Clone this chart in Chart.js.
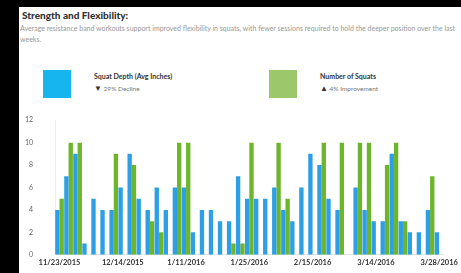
<!DOCTYPE html>
<html>
<head>
<meta charset="utf-8">
<script src="https://cdn.jsdelivr.net/npm/chart.js@4"></script>
<style>
  html, body { margin: 0; padding: 0; background: #000; width: 461px; height: 273px; overflow: hidden; }
  #panel { position: absolute; left: 19px; top: 7px; width: 442px; height: 266px; background: #fff; font-family: Lato, "Open Sans", sans-serif; }
  #title { position: absolute; left: 3px; top: 2px; font-size: 10px; font-weight: 900; color: #333; }
  #sub { position: absolute; left: 1px; top: 16px; width: 438px; font-size: 7px; line-height: 11px; color: #999; }
  .leg { position: absolute; top: 63px; }
  .sw { position: absolute; left: 0; top: 0; width: 28px; height: 28px; }
  .lt { position: absolute; left: 51px; top: 2px; white-space: nowrap; font-size: 7px; font-weight: 700; color: #333; }
  .ls { position: absolute; left: 51px; top: 13px; white-space: nowrap; font-size: 6.5px; color: #777; }
  .ls b { color: #333; font-size: 8px; }
  #wrap { position: absolute; left: 0; top: 95px; width: 442px; height: 171px; }
</style>
</head>
<body>
<div id="panel">
  <div id="title">Strength and Flexibility:</div>
  <div id="sub">Average resistance band workouts support improved flexibility in squats, with fewer sessions required to hold the deeper position over the last weeks.</div>
  <div class="leg" style="left:24px">
    <div class="sw" style="background:#17b5ef"></div>
    <div class="lt">Squat Depth (Avg Inches)</div>
    <div class="ls"><b>&#9660;</b> 29% Decline</div>
  </div>
  <div class="leg" style="left:250px">
    <div class="sw" style="background:#9cc76b"></div>
    <div class="lt">Number of Squats</div>
    <div class="ls"><b>&#9650;</b> 4% Improvement</div>
  </div>
  <div id="wrap"><canvas id="chart"></canvas></div>
</div>
<script>
// --- data ---
const sessionDates = [
  '11/23/2015', '11/25/2015', '11/30/2015', '12/2/2015', '12/4/2015', '12/7/2015', '12/9/2015',
  '12/14/2015', '12/16/2015', '12/21/2015', '12/28/2015', '1/4/2016', '1/6/2016', '1/8/2016',
  '1/11/2016', '1/13/2016', '1/15/2016', '1/18/2016', '1/20/2016', '1/21/2016', '1/22/2016',
  '1/25/2016', '1/27/2016', '1/29/2016', '2/1/2016', '2/3/2016', '2/8/2016', '2/10/2016',
  '2/15/2016', '2/17/2016', '2/22/2016', '2/24/2016', '2/29/2016', '3/2/2016', '3/7/2016',
  '3/14/2016', '3/16/2016', '3/18/2016', '3/21/2016', '3/22/2016', '3/23/2016', '3/25/2016',
  '3/28/2016'
];
const squatDepth = [
  4, 7, 9, 1, 5, 4, 4, 6, 9, 5, 4, 6, 4, 6, 6, 2, 4, 4, 3, 3, 7,
  5, 5, 5, 6, 4, 3, 6, 9, 8, 5, 4, 0, 6, 4, 3, 3, 9, 3, 2, 2, 4, 2
];
const squatCount = [
  5, 10, 10, 0, 0, 0, 9, 0, 8, 0, 3, 2, 0, 10, 10, 0, 0, 0, 0, 1, 1,
  10, 0, 0, 10, 5, 0, 0, 0, 10, 0, 10, 0, 10, 10, 0, 8, 10, 3, 0, 0, 7, 0
];
const yTicks = [0, 2, 4, 6, 8, 10, 12];
const labelEvery = 7;

// --- chart ---
const tickFont = { family: 'Lato, "Open Sans", sans-serif', size: 7 };

new Chart(document.getElementById('chart').getContext('2d'), {
  type: 'bar',
  data: {
    labels: sessionDates,
    datasets: [
      {
        label: 'Squat Depth (Avg Inches)',
        data: squatDepth,
        backgroundColor: '#2c9fe6',
        categoryPercentage: 0.96,
        barPercentage: 1.0
      },
      {
        label: 'Number of Squats',
        data: squatCount,
        backgroundColor: '#6db52a',
        categoryPercentage: 0.96,
        barPercentage: 1.0
      }
    ]
  },
  options: {
    responsive: true,
    maintainAspectRatio: false,
    animation: false,
    layout: { padding: { top: 3, right: 14, left: 0, bottom: 0 } },
    plugins: { legend: { display: false }, tooltip: { enabled: false } },
    scales: {
      x: {
        grid: { display: false, drawTicks: false, tickLength: 0 },
        border: { color: '#e3e3e3' },
        ticks: {
          autoSkip: false,
          maxRotation: 0,
          color: '#333',
          font: { ...tickFont, size: 7.5, weight: 'bold' },
          padding: 3,
          callback: function(value, index) {
            return index % labelEvery === 0 ? this.getLabelForValue(value) : '';
          }
        }
      },
      y: {
        min: 0,
        max: 12,
        afterFit: scale => { scale.width = 36; },
        afterBuildTicks: scale => { scale.ticks = yTicks.map(v => ({ value: v })); },
        grid: { display: false },
        border: { color: '#eeeeee' },
        ticks: { color: '#666', font: tickFont, padding: 14 }
      }
    }
  }
});
</script>
</body>
</html>
